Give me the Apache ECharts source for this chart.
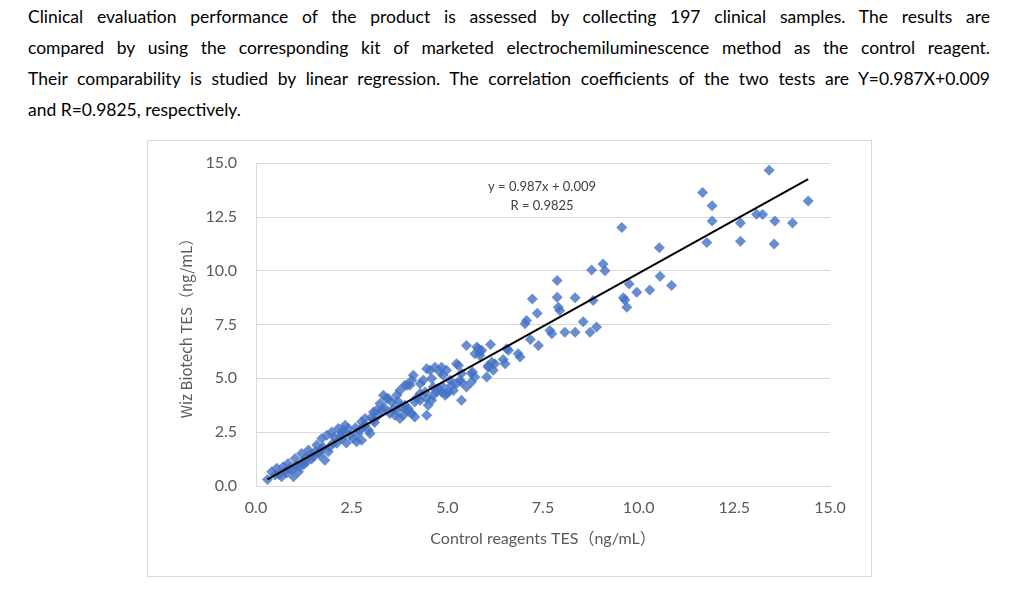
<!DOCTYPE html>
<html>
<head>
<meta charset="utf-8">
<script src="https://cdn.jsdelivr.net/npm/echarts@6/dist/echarts.min.js"></script>
<style>
    body { margin: 0; background: #fff; width: 1020px; height: 591px; overflow: hidden; }
    #intro { position: absolute; left: 28px; top: 1px; width: 962px; font-family: Lato, "Noto Sans", sans-serif; font-size: 17.5px; line-height: 31px; color: #000; }
    #intro .ln { text-align: justify; text-align-last: justify; }
    #intro .ln.last { text-align: left; text-align-last: left; }
    #box { position: absolute; left: 147px; top: 140px; width: 725px; height: 437px; border: 1px solid #d9d9d9; box-sizing: border-box; }
    #chart { width: 100%; height: 100%; }
</style>
</head>
<body>
<div id="intro">
    <div class="ln">Clinical evaluation performance of the product is assessed by collecting 197 clinical samples. The results are</div>
    <div class="ln">compared by using the corresponding kit of marketed electrochemiluminescence method as the control reagent.</div>
    <div class="ln">Their comparability is studied by linear regression. The correlation coefficients of the two tests are Y=0.987X+0.009</div>
    <div class="ln last">and R=0.9825, respectively.</div>
</div>
<div id="box"><div id="chart"></div></div>
<script>
// 对照试剂 (x) / Wiz Biotech (y)
var controlX = [
    0.30, 0.41, 0.50, 0.54, 0.60, 0.67, 0.71, 0.75, 0.80, 0.84, 0.88, 0.95, 0.98, 1.02, 1.05, 1.11, 1.15, 1.19, 1.22, 1.25,
    1.30, 1.32, 1.37, 1.42, 1.45, 1.50, 1.55, 1.59, 1.64, 1.67, 1.70, 1.72, 1.75, 1.80, 1.85, 1.89, 1.93, 1.98, 2.02, 2.05,
    2.11, 2.15, 2.20, 2.24, 2.25, 2.28, 2.33, 2.36, 2.41, 2.46, 2.54, 2.60, 2.63, 2.67, 2.70, 2.76, 2.76, 2.80, 2.85, 2.85,
    2.94, 2.98, 3.02, 3.07, 3.07, 3.10, 3.15, 3.20, 3.24, 3.30, 3.33, 3.37, 3.41, 3.46, 3.50, 3.55, 3.60, 3.63, 3.68, 3.68,
    3.70, 3.76, 3.76, 3.80, 3.85, 3.89, 3.89, 3.94, 3.94, 3.98, 4.00, 4.02, 4.07, 4.07, 4.11, 4.15, 4.15, 4.20, 4.29, 4.29,
    4.29, 4.37, 4.42, 4.46, 4.46, 4.46, 4.50, 4.55, 4.59, 4.59, 4.63, 4.63, 4.68, 4.72, 4.76, 4.81, 4.85, 4.85, 4.89, 4.89,
    4.94, 4.98, 4.98, 5.03, 5.07, 5.11, 5.16, 5.24, 5.24, 5.29, 5.33, 5.37, 5.37, 5.37, 5.50, 5.50, 5.63, 5.63, 5.66, 5.72,
    5.72, 5.77, 5.81, 5.85, 5.85, 5.90, 6.03, 6.07, 6.07, 6.13, 6.16, 6.20, 6.24, 6.46, 6.51, 6.55, 6.60, 6.85, 6.90, 7.03,
    7.07, 7.17, 7.22, 7.35, 7.38, 7.68, 7.73, 7.87, 7.87, 7.90, 7.94, 8.07, 8.34, 8.34, 8.55, 8.73, 8.77, 8.81, 8.90, 9.07,
    9.12, 9.56, 9.60, 9.64, 9.69, 9.75, 9.95, 10.29, 10.54, 10.56, 10.86, 11.67, 11.78, 11.92, 11.92, 12.66, 12.66, 13.08, 13.24, 13.41,
    13.54, 13.56, 14.02, 14.43
];
var wizY = [
    0.30, 0.66, 0.51, 0.82, 0.55, 0.43, 0.89, 0.70, 0.60, 1.05, 0.80, 0.75, 0.43, 1.28, 0.95, 0.66, 0.89, 1.51, 1.10, 1.00,
    1.30, 1.12, 1.67, 1.45, 1.25, 1.36, 1.60, 1.90, 1.55, 1.44, 1.70, 2.21, 1.80, 1.20, 2.36, 1.59, 1.82, 2.51, 2.00, 2.25,
    1.98, 2.67, 2.30, 2.21, 2.45, 2.59, 2.82, 2.00, 2.67, 2.36, 2.21, 2.70, 2.05, 2.44, 2.60, 2.13, 2.98, 2.75, 3.13, 2.82,
    2.59, 2.44, 3.21, 3.06, 3.44, 2.95, 3.52, 3.30, 3.83, 3.55, 4.21, 3.60, 4.06, 4.06, 3.37, 3.90, 3.60, 3.29, 3.52, 4.21,
    3.95, 4.44, 3.13, 3.70, 3.29, 4.68, 3.75, 3.52, 4.68, 3.60, 3.45, 4.68, 4.91, 3.37, 5.14, 3.21, 3.90, 4.10, 4.75, 3.98,
    4.29, 4.91, 4.37, 5.45, 4.06, 3.29, 3.75, 5.37, 4.99, 3.98, 4.21, 4.60, 5.52, 4.37, 4.52, 5.29, 5.52, 4.37, 5.14, 4.60,
    4.21, 5.37, 4.29, 4.37, 4.91, 4.68, 4.44, 4.75, 5.68, 5.60, 4.91, 5.22, 4.83, 3.98, 6.53, 4.60, 4.83, 5.22, 5.29, 5.06,
    6.14, 6.45, 6.37, 6.06, 6.22, 6.30, 5.06, 5.60, 5.52, 6.57, 5.75, 5.37, 5.68, 5.87, 5.68, 6.37, 6.30, 6.14, 5.99, 7.53,
    7.69, 6.80, 8.69, 8.02, 6.53, 7.22, 7.07, 9.54, 8.76, 8.30, 8.15, 7.14, 8.74, 7.14, 7.63, 7.14, 10.03, 8.61, 7.38, 10.31,
    10.00, 12.00, 8.74, 8.64, 8.30, 9.38, 9.00, 9.10, 11.06, 9.74, 9.31, 13.63, 11.31, 13.01, 12.31, 12.21, 11.37, 12.62, 12.61, 14.66,
    11.24, 12.31, 12.21, 13.23
];
var axisTicks = [0, 2.5, 5, 7.5, 10, 12.5, 15];
var slope = 0.987;
var intercept = 0.009;
var rValue = 0.9825;

var points = controlX.map(function (x, i) { return [x, wizY[i]]; });
var xLo = Math.min.apply(null, controlX);
var xHi = Math.max.apply(null, controlX);
var trend = [[xLo, slope * xLo + intercept], [xHi, slope * xHi + intercept]];

var font = 'Lato, "Noto Sans CJK SC", sans-serif';
var cjkFont = '"Noto Sans CJK SC", sans-serif';
var myChart = echarts.init(document.getElementById('chart'), null, {renderer: 'canvas'});

myChart.setOption({
    animation: false,
    textStyle: {fontFamily: font},
    grid: {left: 108, right: 41, top: 22, bottom: 90},
    xAxis: {
        type: 'value',
        min: axisTicks[0],
        max: axisTicks[axisTicks.length - 1],
        interval: 2.5,
        name: 'Control reagents TES（ng/mL）',
        nameLocation: 'middle',
        nameGap: 45,
        nameTextStyle: {color: '#595959', fontSize: 16, fontFamily: font},
        axisLine: {lineStyle: {color: '#d9d9d9', width: 1}},
        axisTick: {show: false},
        axisLabel: {color: '#595959', fontSize: 16, margin: 14, formatter: function (v) { return v.toFixed(1); }},
        splitLine: {show: false}
    },
    yAxis: {
        type: 'value',
        min: axisTicks[0],
        max: axisTicks[axisTicks.length - 1],
        interval: 2.5,
        name: 'Wiz Biotech TES（ng/mL）',
        nameLocation: 'middle',
        nameGap: 62,
        nameTextStyle: {color: '#595959', fontSize: 15, fontFamily: cjkFont},
        axisLine: {show: true, lineStyle: {color: '#d9d9d9', width: 1}},
        axisTick: {show: false},
        axisLabel: {color: '#595959', fontSize: 16, margin: 19, formatter: function (v) { return v.toFixed(1); }},
        splitLine: {lineStyle: {color: '#d9d9d9', width: 1}}
    },
    graphic: [
        {
            type: 'text', x: 394, y: 46,
            style: {text: 'y = ' + slope + 'x + ' + intercept, fill: '#404040', font: '13px ' + font, align: 'center', verticalAlign: 'middle'}
        },
        {
            type: 'text', x: 394, y: 65,
            style: {text: 'R = ' + rValue, fill: '#404040', font: '13px ' + font, align: 'center', verticalAlign: 'middle'}
        }
    ],
    series: [
        {
            name: 'samples',
            type: 'scatter',
            symbol: 'diamond',
            symbolSize: 11,
            itemStyle: {color: '#4472C4'},
            data: points
        },
        {
            name: 'trend',
            type: 'line',
            showSymbol: false,
            symbol: 'none',
            z: 5,
            lineStyle: {color: '#000', width: 2},
            data: trend
        }
    ]
});
</script>
</body>
</html>
